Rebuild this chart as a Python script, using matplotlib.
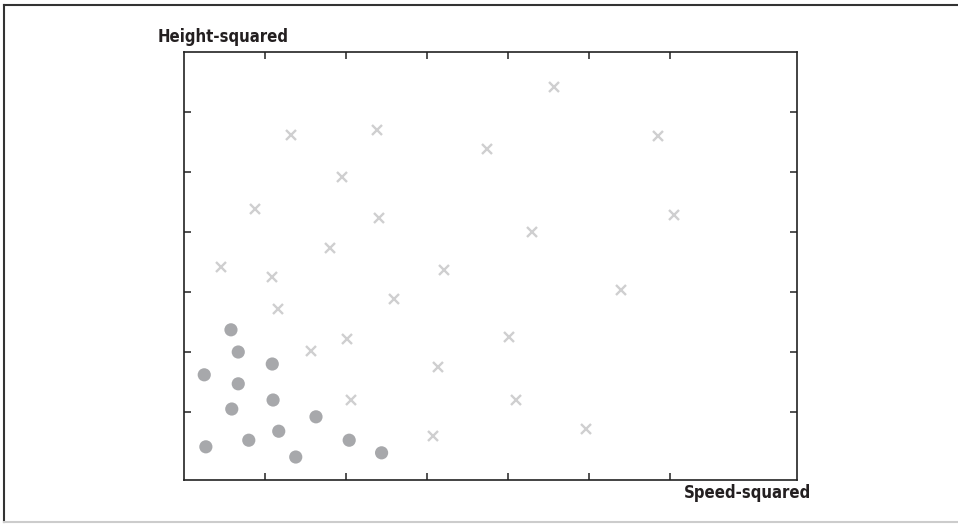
import matplotlib
matplotlib.use("Agg")
import matplotlib.pyplot as plt
from matplotlib.lines import Line2D

# Data (axis units: one tick = 1)
circle_x = [0.25, 0.58, 0.67, 0.67, 0.59, 0.27, 0.80, 1.09, 1.10, 1.17, 1.38, 1.63, 2.04, 2.44]
circle_y = [1.62, 2.37, 2.00, 1.47, 1.05, 0.42, 0.53, 1.80, 1.20, 0.68, 0.25, 0.92, 0.53, 0.32]

cross_x = [4.57, 1.32, 2.38, 5.85, 3.74, 1.95, 0.88, 2.41, 6.05, 4.30, 1.80, 0.46, 1.09,
           3.21, 1.16, 2.59, 5.40, 1.57, 2.01, 4.01, 3.14, 2.06, 4.10, 3.07, 4.96]
cross_y = [6.42, 5.62, 5.70, 5.60, 5.38, 4.92, 4.38, 4.23, 4.28, 4.00, 3.73, 3.42, 3.25,
           3.37, 2.72, 2.88, 3.03, 2.02, 2.22, 2.25, 1.75, 1.20, 1.20, 0.60, 0.72]

tick_pos = [1, 2, 3, 4, 5, 6]
x_label = "Speed-squared"
y_label = "Height-squared"

W, H = 958, 524
fig = plt.figure(figsize=(W / 100, H / 100), dpi=100)
ax = fig.add_axes([184 / W, 1 - 480 / H, (797 - 184) / W, (480 - 52) / H])

ax.scatter(circle_x, circle_y, s=90, color="#a7a8ab", edgecolors="none", zorder=3)
ax.plot(cross_x, cross_y, linestyle="none", marker="x", markersize=7.5,
        markeredgewidth=1.7, color="#cfcfd0", zorder=2)

ax.set_xlim(0, 7.57)
ax.set_ylim(-0.133, 7.0)
ax.set_xticks(tick_pos)
ax.set_yticks(tick_pos)
ax.set_xticklabels([])
ax.set_yticklabels([])
ax.tick_params(direction="in", length=5, width=1.1, color="#222222",
               top=True, right=True, bottom=True, left=True)
for sp in ax.spines.values():
    sp.set_linewidth(1.2)
    sp.set_color("#222222")

font = ["DejaVu Sans"]
fig.text(158 / W, 1 - 37 / H, y_label, ha="left", va="center", fontstretch="condensed",
         fontsize=12, fontweight="bold", family=font, color="#231f20")
fig.text(811 / W, 1 - 493 / H, x_label, ha="right", va="center", fontstretch="condensed",
         fontsize=12, fontweight="bold", family=font, color="#231f20")

# page frame around the figure
fig.add_artist(Line2D([4 / W, 4 / W], [1 - 5 / H, 1 - 522 / H], transform=fig.transFigure,
                      color="#333333", linewidth=1.5))
fig.add_artist(Line2D([4 / W, 1], [1 - 5 / H, 1 - 5 / H], transform=fig.transFigure,
                      color="#333333", linewidth=1.5))
fig.add_artist(Line2D([4 / W, 1], [1 - 522 / H, 1 - 522 / H], transform=fig.transFigure,
                      color="#cccccc", linewidth=1.5))

fig.savefig("out.png", dpi=100)
